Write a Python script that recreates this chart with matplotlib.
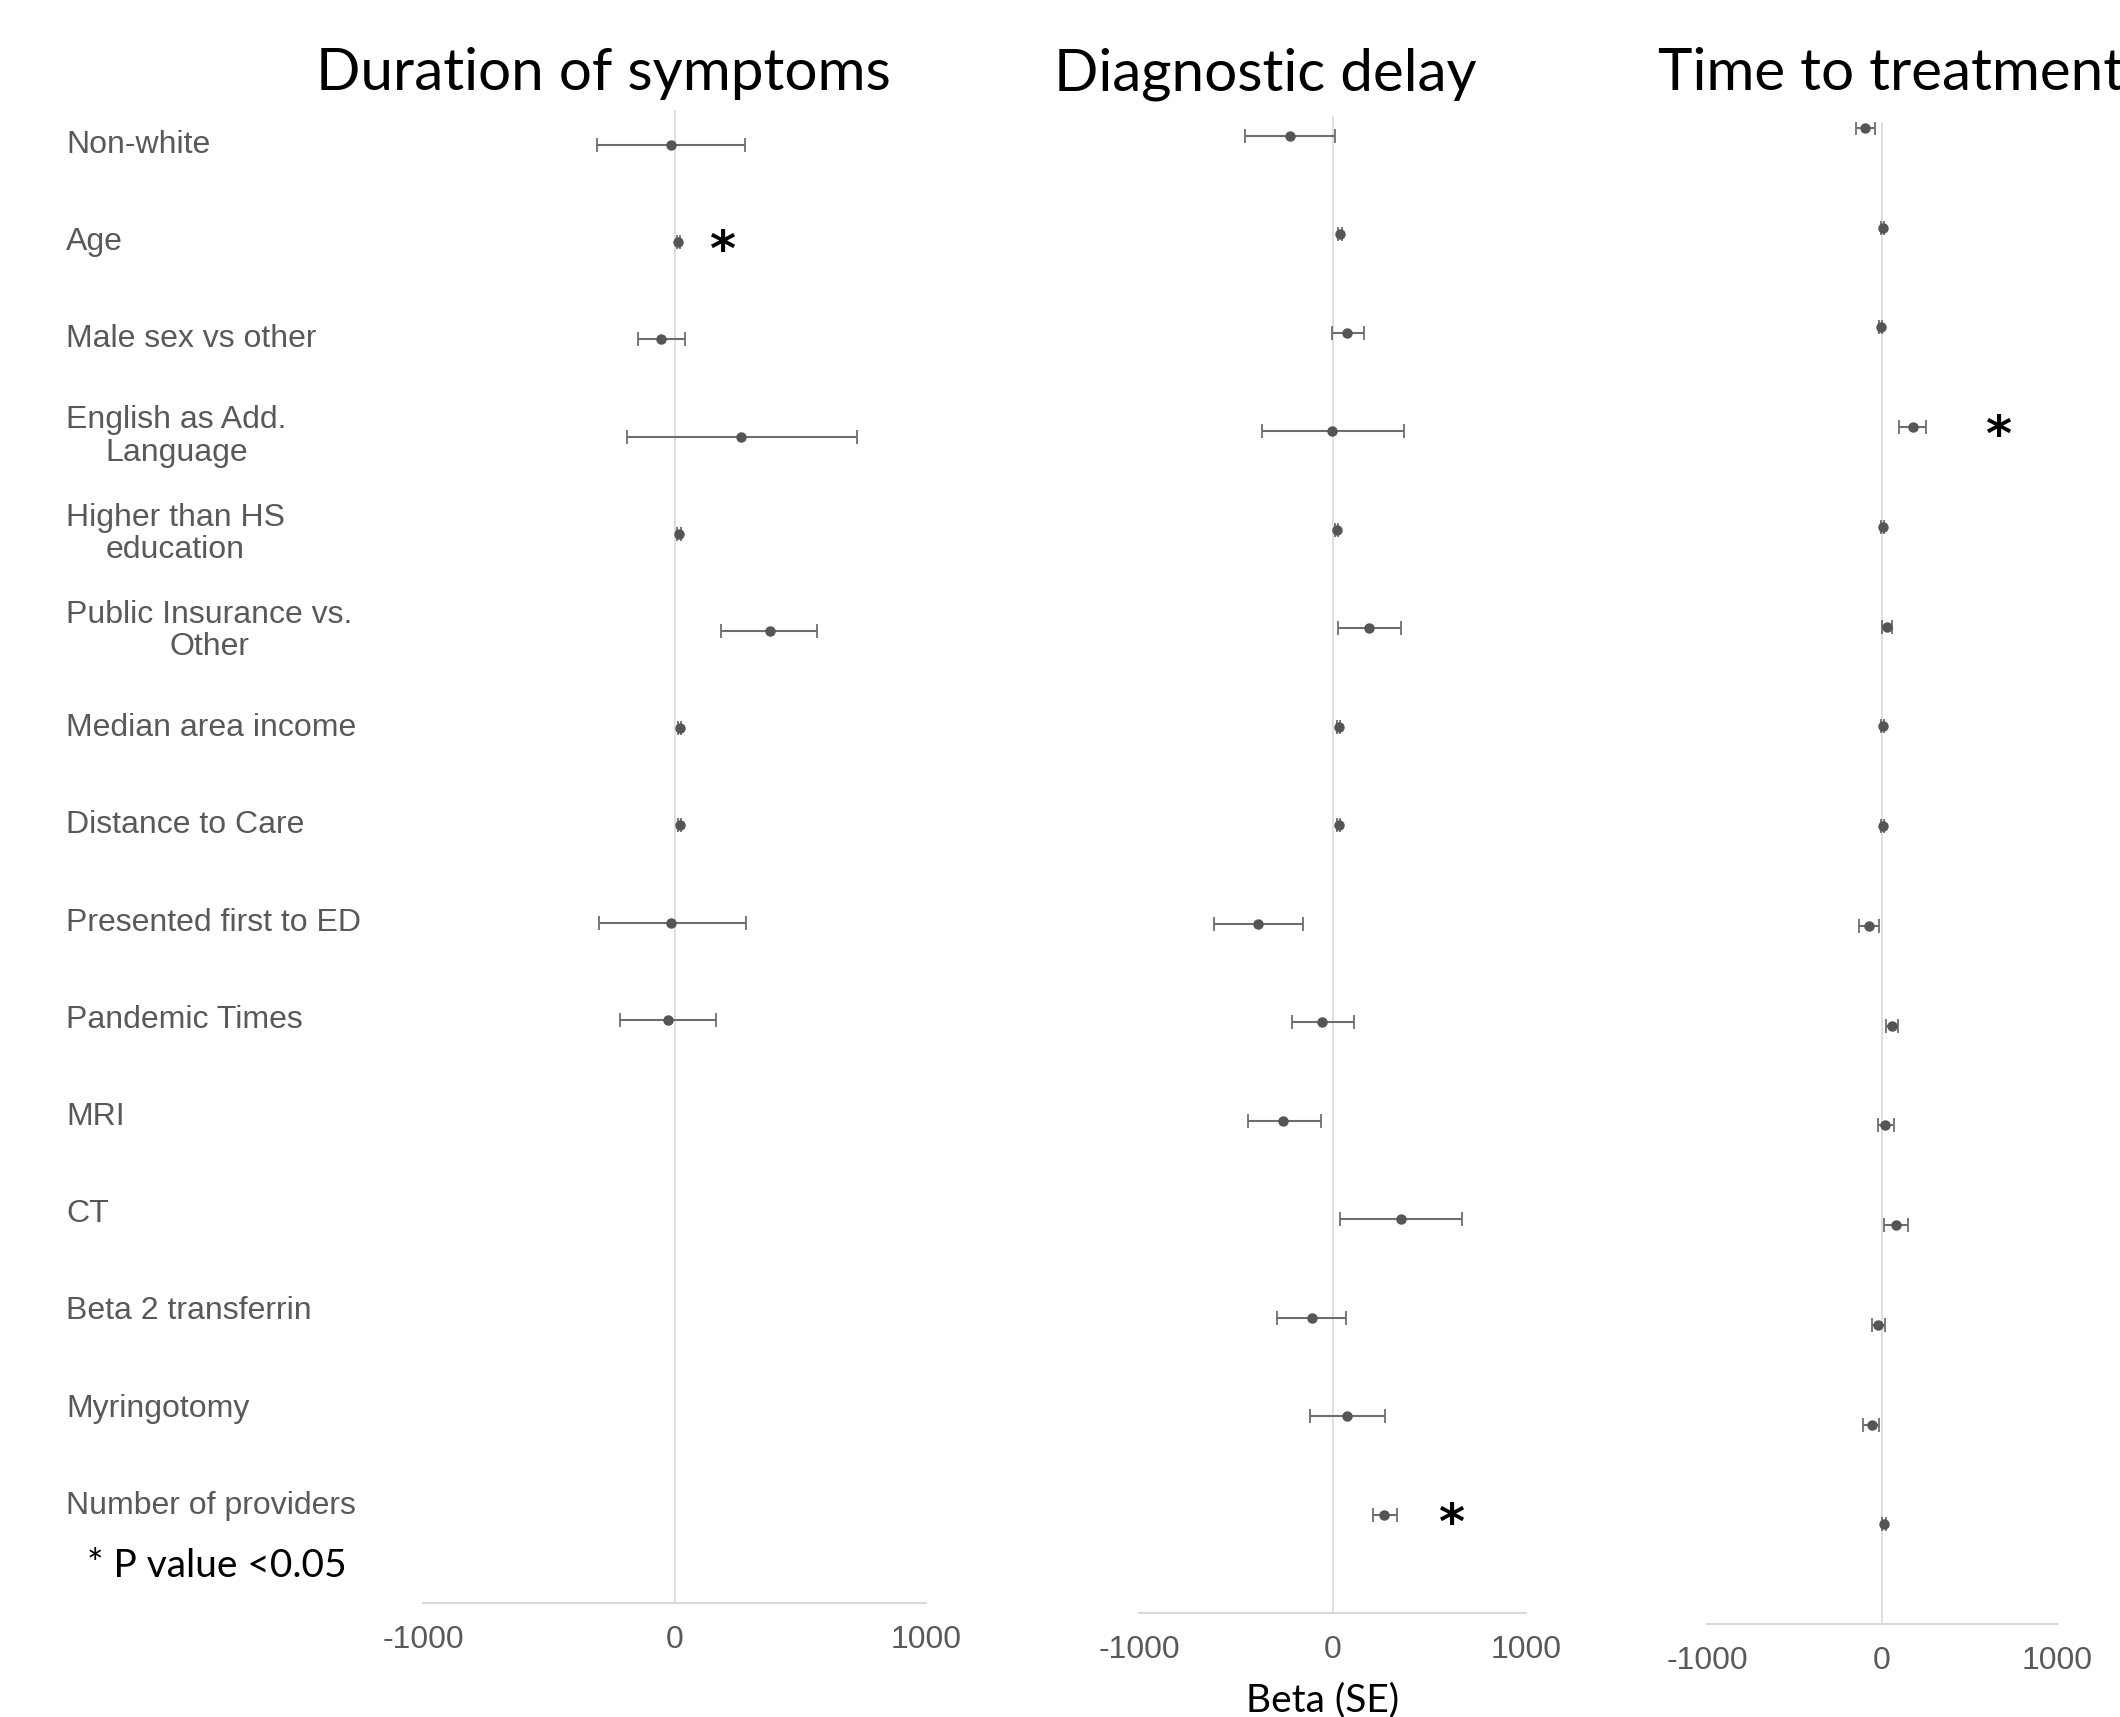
import numpy as np
import matplotlib.pyplot as plt
from matplotlib.transforms import blended_transform_factory, offset_copy

nan = np.nan

labels = ["Non-white", "Age", "Male sex vs other", "English as Add.\nLanguage",
          "Higher than HS\neducation", "Public Insurance vs.\nOther",
          "Median area income", "Distance to Care", "Presented first to ED",
          "Pandemic Times", "MRI", "CT", "Beta 2 transferrin", "Myringotomy",
          "Number of providers"]

# Duration of symptoms
dur_est = [-15, 15, -54, 266, 16, 380, 20, 20, -12, -25, nan, nan, nan, nan, nan]
dur_lo = [-310, 8, -145, -190, 8, 186, 14, 14, -300, -218, nan, nan, nan, nan, nan]
dur_hi = [280, 22, 43, 726, 24, 567, 26, 26, 285, 166, nan, nan, nan, nan, nan]

# Diagnostic delay
dx_est = [-222, 39, 77, -4, 21, 190, 32, 32, -384, -53, -254, 356, -106, 77, 268]
dx_lo = [-454, 30, -4, -363, 12, 28, 24, 24, -613, -211, -437, 39, -285, -116, 208]
dx_hi = [11, 48, 162, 370, 30, 352, 40, 40, -155, 109, -60, 669, 70, 271, 331]

# Time to treatment
tt_est = [-98, 4, -8, 176, 4, 27, 4, 4, -74, 55, 16, 82, -23, -59, 12]
tt_lo = [-148, -4, -16, 98, -4, 0, -4, -4, -129, 20, -23, 12, -59, -109, 2]
tt_hi = [-39, 12, 0, 254, 12, 59, 12, 12, -20, 90, 66, 148, 16, -16, 22]

titles = ["Duration of symptoms", "Diagnostic delay", "Time to treatment"]
signif = [1, 14, 3]          # row with p < 0.05 in each panel
star_x = [190, 615, 665]

W, H = 2120, 1717
fig = plt.figure(figsize=(W / 100, H / 100), dpi=100)

# panel geometry in pixels: left, right, top of zero line, bottom axis line, top row
panels = [(423, 926, 110, 1603, 145), (1139, 1526, 116, 1613, 136), (1707, 2057, 122, 1624, 128)]
series = [(dur_est, dur_lo, dur_hi), (dx_est, dx_lo, dx_hi), (tt_est, tt_lo, tt_hi)]

gray_txt = "#595959"
axes = []
for k, ((l, r, t, b, r0), (est, lo, hi)) in enumerate(zip(panels, series)):
    ax = fig.add_axes([l / W, 1 - b / H, (r - l) / W, (b - t) / H])
    est = np.array(est, float)
    lo = np.array(lo, float)
    hi = np.array(hi, float)
    y = np.arange(len(est))
    step = (b - r0) / 15.0
    ax.set_ylim(15.0, -(r0 - t) / step)
    ax.set_xlim(-1000, 1000)
    ax.axvline(0, color="#d9d9d9", lw=1.2, zorder=0)
    ax.errorbar(est, y, xerr=[est - lo, hi - est], fmt="o", color="#555555",
                ecolor="#6e6e6e", elinewidth=1.5, capsize=5, capthick=1.3,
                markersize=6.5)
    for s in ["top", "right", "left"]:
        ax.spines[s].set_visible(False)
    ax.spines["bottom"].set_color("#d9d9d9")
    ax.spines["bottom"].set_linewidth(1.5)
    ax.set_yticks([])
    ax.set_xticks([-1000, 0, 1000])
    ax.set_xticklabels(["-1000", "0", "1000"])
    ax.tick_params(axis="x", length=0, pad=16, labelsize=23, labelcolor=gray_txt)
    for lab in ax.get_xticklabels():
        lab.set_family("Liberation Sans")
    ax.patch.set_alpha(0)
    star_tr = offset_copy(ax.transData, fig=fig, y=-24, units="dots")
    ax.text(star_x[k], signif[k], "*", fontsize=36, family="DejaVu Sans",
            weight="bold", ha="center", va="baseline", color="black",
            transform=star_tr)
    axes.append(ax)

ax1 = axes[0]
tr = blended_transform_factory(fig.transFigure, ax1.transData)
for i, lab in enumerate(labels):
    ax1.text(66 / W, i, lab, transform=tr, ha="left", va="center",
             multialignment="center", fontsize=23, family="Liberation Sans",
             color=gray_txt, linespacing=1.1)

fig.text(603 / W, 1 - 74 / H, titles[0], ha="center", va="center",
         fontsize=42, family="Lato")
fig.text(1265 / W, 1 - 74 / H, titles[1], ha="center", va="center",
         fontsize=42, family="Lato")
fig.text(1658 / W, 1 - 74 / H, titles[2], ha="left", va="center",
         fontsize=42, family="Lato")

fig.text(87 / W, 1 - 1566 / H, "* P value <0.05", ha="left", va="center",
         fontsize=28, family="Lato")
fig.text(1323 / W, 1 - 1700 / H, "Beta (SE)", ha="center", va="center",
         fontsize=28, family="Lato")

fig.savefig("out.png", dpi=100, facecolor="white")
